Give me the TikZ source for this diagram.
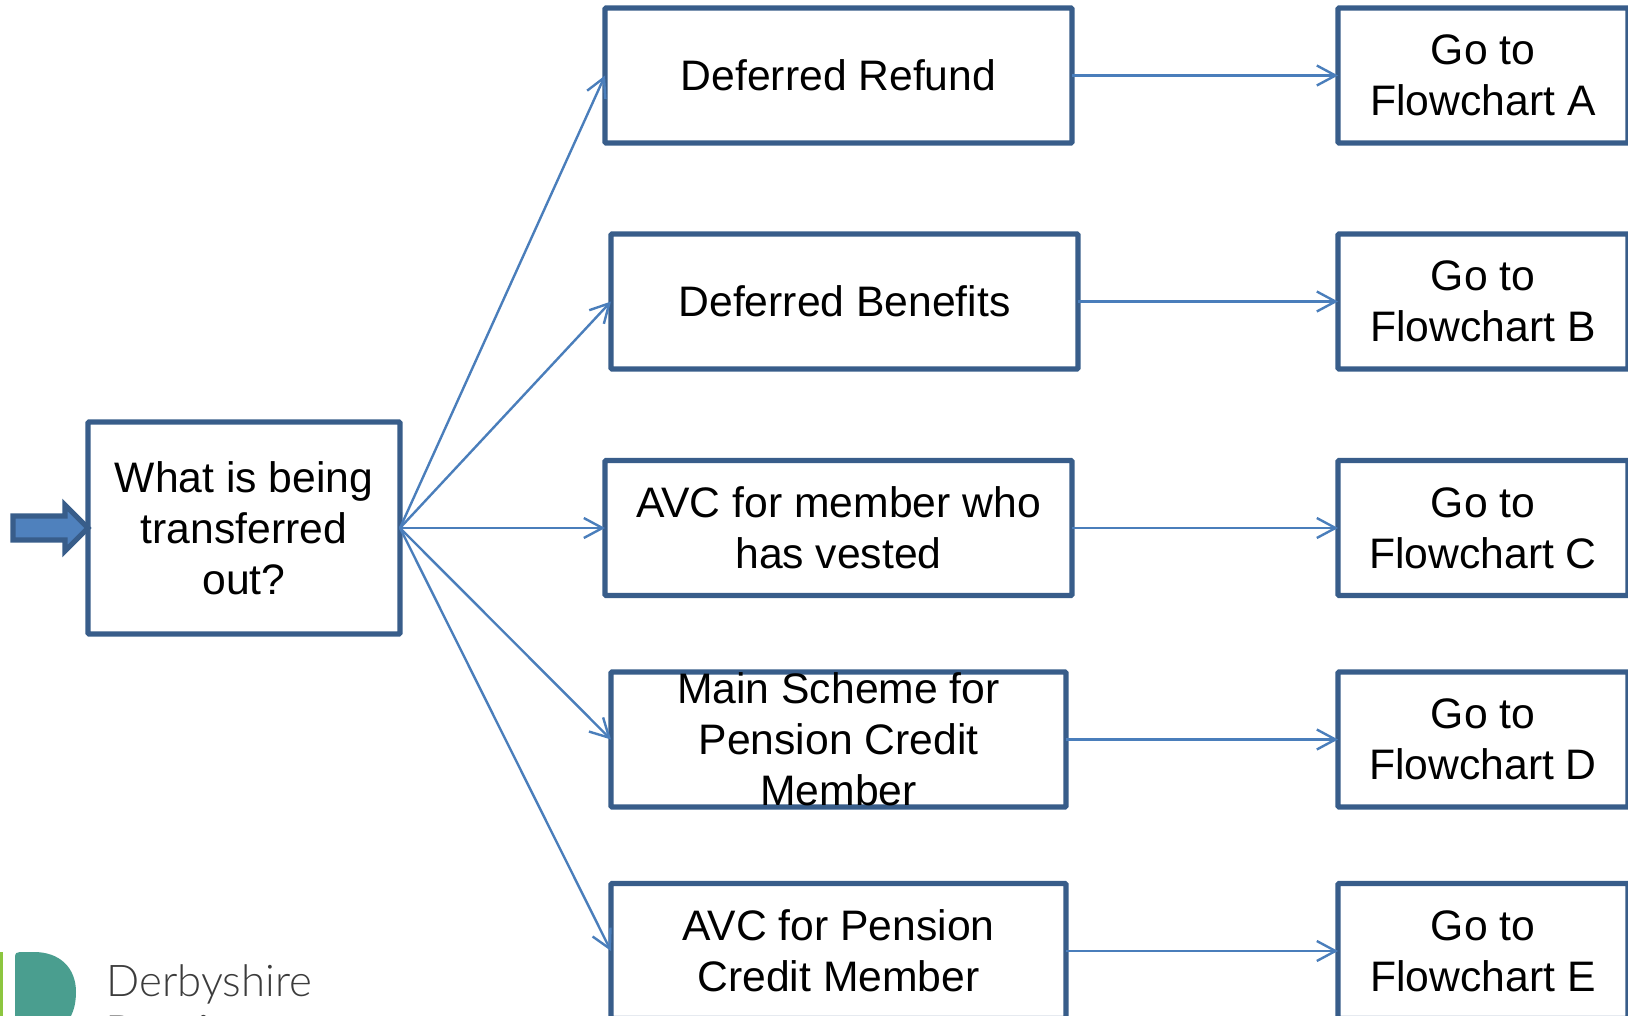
\documentclass[tikz,border=0pt]{standalone}
\usepackage{fontspec}
\setmainfont{Liberation Sans}
\newfontfamily\logofont{Lato Light}
\usetikzlibrary{arrows.meta}
\definecolor{boxline}{HTML}{385D8A}
\definecolor{linkline}{HTML}{4A7EBB}
\definecolor{arrowfill}{HTML}{4F81BD}
\definecolor{logoteal}{HTML}{4A9E8F}
\definecolor{logogreen}{HTML}{8CC63F}
\definecolor{logotext}{HTML}{3C3C3C}
\begin{document}
\begin{tikzpicture}[x=0.75pt,y=-0.75pt]
% size of each column
\def\boxh{135*0.75pt}
\def\goW{290*0.75pt}
% node style definition
\tikzstyle{block} = [
	draw=boxline, fill=white, rectangle, line width=3.9pt, outer sep=0pt,
	rounded corners=0.8pt, inner sep=0pt, align=center,
	font=\fontsize{32}{38.2}\selectfont, minimum height=\boxh];
\tikzstyle{plain} = [draw=none,fill=none,inner sep=0pt,align=center,
	font=\fontsize{32}{38.2}\selectfont];
\tikzstyle{link} = [draw=linkline, line width=1.8pt,
	-{Straight Barb[length=14pt,width=15pt,line width=1.8pt]}];
\useasboundingbox (0,0) rectangle (1628,1016);
% logo
\fill[logogreen] (0,952) rectangle (3,1016);
\fill[logoteal] (15,1016) -- (15,957) .. controls (15,953) and (17,952) .. (20,952)
	-- (34,952) .. controls (60,952) and (76,968) .. (76,992)
	.. controls (76,1002) and (74,1010) .. (71,1016) -- cycle;
\node[plain,anchor=base west,text=logotext] (logoname) at (106,996)
	{\logofont\fontsize{32.8}{38}\selectfont Derbyshire};
\node[plain,anchor=base west,text=logotext] (logofund) at (106,1047)
	{\logofont\bfseries\fontsize{32.8}{38}\selectfont Pension};
% left question box
\node[block,minimum width=312*0.75pt,minimum height=212*0.75pt] (question) at (244,528)
	{What is being\\transferred\\out?};
\fill[arrowfill,draw=boxline,line width=3.9pt,miter limit=4]
	(13,516) -- (65,516) -- (65,505) -- (88,528) -- (65,551) -- (65,540) -- (13,540) -- cycle;
% middle boxes
\node[block,minimum width=467*0.75pt] (refund) at (838.5,75.5) {Deferred Refund};
\node[block,minimum width=467*0.75pt] (benefits) at (844.5,301.5) {Deferred Benefits};
\node[block,minimum width=467*0.75pt] (vested) at (838.5,528) {AVC for member who\\has vested};
\node[block,minimum width=455*0.75pt] (mainscheme) at (838.5,739.5) {};
\node[plain] (mainschemetext) at (mainscheme.center) {Main Scheme for\\Pension Credit\\Member};
\node[block,minimum width=455*0.75pt] (avccredit) at (838.5,951) {AVC for Pension\\Credit Member};
% right boxes
\node[block,minimum width=\goW] (goA) at (1483,75.5) {Go to\\Flowchart A};
\node[block,minimum width=\goW] (goB) at (1483,301.5) {Go to\\Flowchart B};
\node[block,minimum width=\goW] (goC) at (1483,528) {Go to\\Flowchart C};
\node[block,minimum width=\goW] (goD) at (1483,739.5) {Go to\\Flowchart D};
\node[block,minimum width=\goW] (goE) at (1483,951) {Go to\\Flowchart E};
% connectors
\draw[link] (question.east) -- (refund.west);
\draw[link] (question.east) -- (benefits.west);
\draw[link] (question.east) -- (vested.west);
\draw[link] (question.east) -- (mainscheme.west);
\draw[link] (question.east) -- (avccredit.west);
\draw[link] (refund.east) -- (goA.west);
\draw[link] (benefits.east) -- (goB.west);
\draw[link] (vested.east) -- (goC.west);
\draw[link] (mainscheme.east) -- (goD.west);
\draw[link] (avccredit.east) -- (goE.west);
\end{tikzpicture}
\end{document}
